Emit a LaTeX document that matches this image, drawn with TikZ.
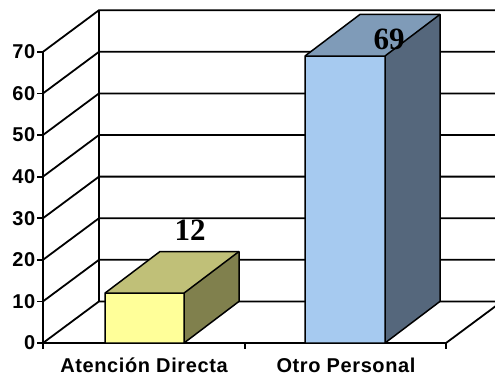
\documentclass[tikz,border=0pt]{standalone}
\usepackage{fontspec}
\setmainfont{Liberation Sans}
\newfontfamily\valfont{Liberation Serif}
\newfontfamily\axfont[LetterSpace=3]{Liberation Sans}
\definecolor{yfront}{HTML}{FFFF99}
\definecolor{ytop}{HTML}{C0C078}
\definecolor{yside}{HTML}{80804D}
\definecolor{bfront}{HTML}{A6CAF0}
\definecolor{btop}{HTML}{7F9BB8}
\definecolor{bside}{HTML}{55677C}
\tikzset{
  wall/.style={line width=1.8pt, black},
  barline/.style={line width=1.5pt, black, line join=round},
  ylab/.style={anchor=east, inner sep=0pt, font=\axfont\bfseries\fontsize{20}{22}\selectfont},
  xlab/.style={anchor=base, inner sep=0pt, font=\axfont\bfseries\fontsize{20}{22}\selectfont},
  vlab/.style={inner sep=0pt, font=\valfont\bfseries\fontsize{31}{33}\selectfont}
}
\begin{document}
\begin{tikzpicture}[x=1pt,y=-1pt]
\useasboundingbox (0,0) rectangle (495,376);
\begin{scope}
\clip (0,0) rectangle (495,376);
% walls and grid
\foreach \k in {0,...,7}{
  \pgfmathsetmacro{\yf}{343-41.6*\k}
  \pgfmathsetmacro{\yb}{\yf-41.6}
  \draw[wall] (43,\yf) -- (99,\yb) -- (520,\yb);
  \draw[wall] (37,\yf) -- (43,\yf);
}
\draw[wall] (99,301.4) -- (99,10.2);
\draw[wall] (43,343) -- (43,51.8);
\draw[wall] (43,343) -- (446,343) -- (502,301.4);
\foreach \x in {43,245,446}{\draw[wall] (\x,343) -- (\x,349);}
% bar 1
\fill[ytop] (105,293.1) -- (160,251.5) -- (239,251.5) -- (184,293.1) -- cycle;
\fill[yside] (184,343) -- (239,301.4) -- (239,251.5) -- (184,293.1) -- cycle;
\fill[yfront] (105,343) rectangle (184,293.1);
\draw[barline] (105,343) -- (105,293.1) -- (160,251.5) -- (239,251.5) -- (239,301.4) -- (184,343) -- cycle;
\draw[barline] (105,293.1) -- (184,293.1) -- (239,251.5) (184,293.1) -- (184,343);
% bar 2
\fill[btop] (305,56) -- (360,14.4) -- (440,14.4) -- (385,56) -- cycle;
\fill[bside] (385,343) -- (440,301.4) -- (440,14.4) -- (385,56) -- cycle;
\fill[bfront] (305,343) rectangle (385,56);
\draw[barline] (305,343) -- (305,56) -- (360,14.4) -- (440,14.4) -- (440,301.4) -- (385,343) -- cycle;
\draw[barline] (305,56) -- (385,56) -- (440,14.4) (385,56) -- (385,343);
\end{scope}
% labels
\foreach \k in {0,...,7}{
  \pgfmathtruncatemacro{\v}{10*\k}
  \node[ylab] (y\k) at (35.5,343-41.6*\k) {\v};
}
\node[xlab] (c1) at (144,372) {Atención Directa};
\node[xlab] (c2) at (346,372) {Otro Personal};
\node[vlab] (v1) at (190,230.5) {12};
\node[vlab] (v2) at (389,39) {69};
\end{tikzpicture}
\end{document}
